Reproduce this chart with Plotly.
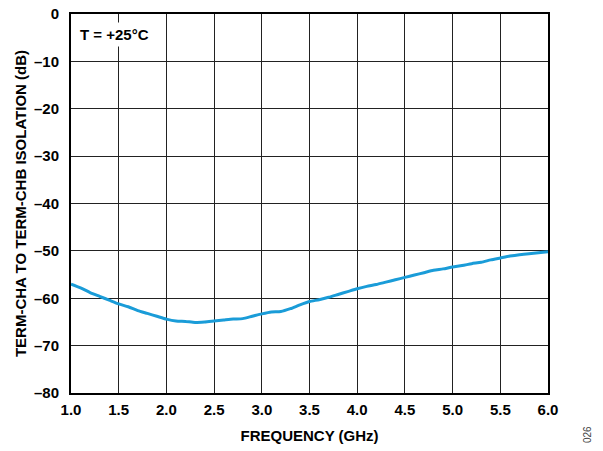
import plotly.graph_objects as go

freq_ghz = [1.0, 1.1, 1.2, 1.3, 1.4, 1.5, 1.6, 1.7, 1.8, 1.9,
            2.0, 2.1, 2.2, 2.3, 2.4, 2.5, 2.6, 2.7, 2.8, 2.9,
            3.0, 3.1, 3.2, 3.3, 3.4, 3.5, 3.6, 3.7, 3.8, 3.9,
            4.0, 4.1, 4.2, 4.3, 4.4, 4.5, 4.6, 4.7, 4.8, 4.9,
            5.0, 5.1, 5.2, 5.3, 5.4, 5.5, 5.6, 5.7, 5.8, 5.9, 6.0]
isolation_db = [-57.0, -57.8, -58.8, -59.6, -60.4, -61.2, -61.8, -62.6, -63.2, -63.8,
                -64.4, -64.8, -64.9, -65.1, -65.0, -64.8, -64.6, -64.4, -64.3, -63.8,
                -63.3, -62.9, -62.8, -62.2, -61.4, -60.7, -60.3, -59.8, -59.2, -58.6,
                -58.0, -57.5, -57.1, -56.6, -56.1, -55.6, -55.1, -54.6, -54.1, -53.8,
                -53.4, -53.1, -52.7, -52.4, -51.9, -51.5, -51.1, -50.8, -50.6, -50.4, -50.2]

x_ticks = [1.0, 1.5, 2.0, 2.5, 3.0, 3.5, 4.0, 4.5, 5.0, 5.5, 6.0]
x_ticklabels = ["1.0", "1.5", "2.0", "2.5", "3.0", "3.5", "4.0", "4.5", "5.0", "5.5", "6.0"]
y_ticks = [0, -10, -20, -30, -40, -50, -60, -70, -80]
y_ticklabels = ["0", "–10", "–20", "–30", "–40", "–50", "–60", "–70", "–80"]

font_family = "Liberation Sans, Arial, sans-serif"

fig = go.Figure()
fig.add_trace(go.Scatter(
    x=freq_ghz, y=isolation_db, mode="lines",
    line=dict(color="#1a9cd8", width=3, shape="spline", smoothing=0.6),
    showlegend=False, hoverinfo="skip",
))

# page body adds an 8px offset; margins compensate so the plot lands where the reference has it
fig.update_layout(
    width=603, height=451,
    margin=dict(l=63, r=63, t=6, b=66, autoexpand=False),
    paper_bgcolor="white", plot_bgcolor="white",
    font=dict(family=font_family, color="black"),
    xaxis=dict(
        range=[1.0, 6.0], tickvals=x_ticks, ticktext=x_ticklabels,
        showgrid=True, gridcolor="#222222", gridwidth=1,
        showline=True, linecolor="black", linewidth=2, mirror=True,
        ticks="", zeroline=False, automargin=False, ticklabelstandoff=2,
        ticklabeloverflow="allow",
        tickfont=dict(size=15, family=font_family, weight="bold"),
        title=dict(text="<b>FREQUENCY (GHz)</b>", font=dict(size=15), standoff=13),
    ),
    yaxis=dict(
        range=[-80, 0], tickvals=y_ticks, ticktext=y_ticklabels,
        showgrid=True, gridcolor="#222222", gridwidth=1,
        showline=True, linecolor="black", linewidth=2, mirror=True,
        ticks="", zeroline=False, automargin=False, ticklabelstandoff=7,
        ticklabeloverflow="allow",
        tickfont=dict(size=15, family=font_family, weight="bold"),
        title=dict(text="<b>TERM-CHA TO TERM-CHB ISOLATION (dB)</b>", font=dict(size=15), standoff=4),
    ),
    annotations=[
        dict(text="<b>T = +25°C</b>", xref="paper", yref="paper", x=0.011, y=0.945,
             xanchor="left", yanchor="middle", showarrow=False,
             font=dict(size=15, family=font_family), bgcolor="white", borderpad=3),
        dict(text="026", xref="paper", yref="paper", x=(587 - 71) / 477, y=(393 - 435) / 379,
             xanchor="center", yanchor="middle", showarrow=False, textangle=-90,
             font=dict(size=10, family=font_family, color="#444444")),
    ],
)

fig.write_html("out.html")
